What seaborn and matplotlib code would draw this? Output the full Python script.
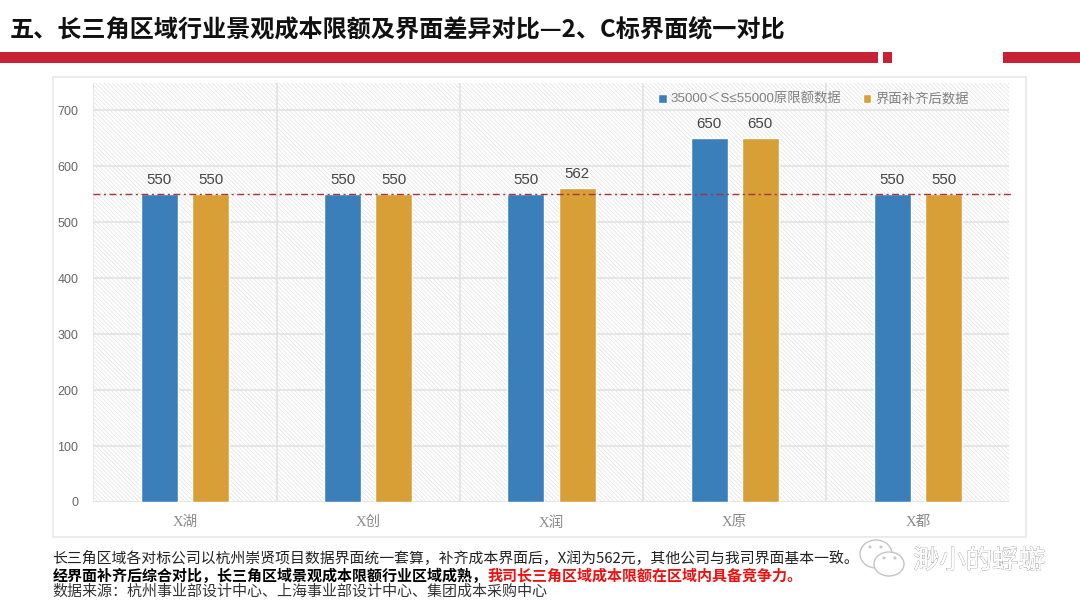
import pandas as pd
import seaborn as sns
import matplotlib.pyplot as plt
import matplotlib.patheffects as pe
from matplotlib.patches import Rectangle, Ellipse

# Data
companies = ["X湖", "X创", "X润", "X原", "X都"]
original_values = [550, 550, 550, 650, 550]
adjusted_values = [550, 550, 562, 650, 550]
series_names = ["35000＜S≤55000原限额数据", "界面补齐后数据"]
reference_value = 550
y_ticks = [0, 100, 200, 300, 400, 500, 600, 700]

title = "五、长三角区域行业景观成本限额及界面差异对比—2、C标界面统一对比"
note_line = "长三角区域各对标公司以杭州崇贤项目数据界面统一套算，补齐成本界面后，X润为562元，其他公司与我司界面基本一致。"
bold_line = "经界面补齐后综合对比，长三角区域景观成本限额行业区域成熟，"
red_line = "我司长三角区域成本限额在区域内具备竞争力。"
source_line = "数据来源：杭州事业部设计中心、上海事业部设计中心、集团成本采购中心"
watermark = "渺小的蜉蝣"

sns.set_theme(style="white")
plt.rcParams['font.family'] = ['Liberation Sans', 'Noto Sans CJK SC']
plt.rcParams['hatch.color'] = '#e2e2e2'
plt.rcParams['hatch.linewidth'] = 0.5

cjk = ['Noto Sans CJK SC', 'DejaVu Sans']
W, H = 1080, 608
fig = plt.figure(figsize=(W / 100, H / 100), dpi=100)

# Overlay in pixel coordinates for the slide decoration
bg = fig.add_axes([0, 0, 1, 1], zorder=0)
bg.set_xlim(0, W)
bg.set_ylim(H, 0)
bg.axis("off")

bg.text(10, 30, title, fontsize=17.4, fontweight="bold", color="#111111", va="center", ha="left", family=cjk)
for x0, x1 in [(0, 878), (883, 892), (1003, 1080)]:
    bg.add_patch(Rectangle((x0, 52), x1 - x0, 11, facecolor="#c62234", edgecolor="none"))
bg.add_patch(Rectangle((53, 77), 973, 460, facecolor="white", edgecolor="#e8e8e8", lw=1.2))

bg.text(52, 558, note_line, fontsize=10.7, color="#222222", va="center", family=cjk)
bg.text(53, 576, bold_line, fontsize=10.8, fontweight="bold", color="black", va="center", family=cjk)
bg.text(488, 576, red_line, fontsize=10.8, fontweight="bold", color="#f01010", va="center", family=cjk)
bg.text(52, 592, source_line, fontsize=10.8, color="#333333", va="center", family=cjk)

# Watermark icon and name
bg.add_patch(Ellipse((876, 554), 32, 28, facecolor="white", edgecolor="#c4c4c4", lw=1))
bg.add_patch(Ellipse((889, 564), 30, 24, facecolor="white", edgecolor="#c4c4c4", lw=1))
for ex, ey in [(870, 547), (881, 547), (884, 558), (895, 558)]:
    bg.add_patch(Ellipse((ex, ey), 3, 3, facecolor="#c8c8c8", edgecolor="none"))
wm = bg.text(913, 561, watermark, fontsize=19, color="white", va="center", family=cjk)
wm.set_path_effects([pe.withStroke(linewidth=0.6, foreground="#8c8c8c"), pe.Normal()])

# Chart
ax = fig.add_axes([93.5 / W, 1 - 502 / H, 916 / W, 419.5 / H], zorder=1)
df = pd.DataFrame({
    "company": companies * 2,
    "value": original_values + adjusted_values,
    "series": [series_names[0]] * 5 + [series_names[1]] * 5,
})
sns.barplot(data=df, x="company", y="value", hue="series", ax=ax, width=0.56, gap=0.28,
            palette=["#3a7fb9", "#d89f37"], saturation=1, zorder=3)

ax.set_facecolor("white")
ax.patch.set_hatch("\\\\\\\\\\\\\\\\")
ax.patch.set_edgecolor("#e2e2e2")

ax.set_xlim(-0.5, 4.5)
ax.set_ylim(0, 750)
ax.set_yticks(y_ticks)
ax.set_xticks([i - 0.5 for i in range(6)], minor=True)
ax.grid(axis="y", which="major", color="#e2e2e2", lw=1.2, zorder=1)
ax.grid(axis="x", which="minor", color="#e2e2e2", lw=1.2, zorder=1)
ax.grid(axis="x", which="major", visible=False)
ax.set_axisbelow(True)
ax.set_xlabel("")
ax.set_ylabel("")
ax.tick_params(axis="both", which="both", length=0)
ax.tick_params(axis="y", labelsize=9, labelcolor="#666666", pad=11)
ax.tick_params(axis="x", labelsize=10.5, labelcolor="#8a8a8a", pad=10)
for label in ax.get_xticklabels():
    label.set_family(['Liberation Serif', 'Noto Sans CJK SC'])
for spine in ax.spines.values():
    spine.set_visible(False)

for container in ax.containers:
    ax.bar_label(container, fontsize=10.8, color="#444444", padding=5)

ax.axhline(reference_value, xmax=1.004, color="#a8323c", lw=1.0, ls=(0, (5, 2.5, 1.5, 2.5)),
           clip_on=False, zorder=4)

ax.legend(loc="upper right", bbox_to_anchor=(0.966, 0.998), ncol=2, frameon=False,
          prop={'family': ['Liberation Sans', 'Noto Sans CJK SC'], 'size': 9.6},
          labelcolor="#7f7f7f", handlelength=0.65, handleheight=0.65, handletextpad=0.3,
          columnspacing=1.6, borderaxespad=0.3, title=None)

fig.savefig("out.png", dpi=100)
